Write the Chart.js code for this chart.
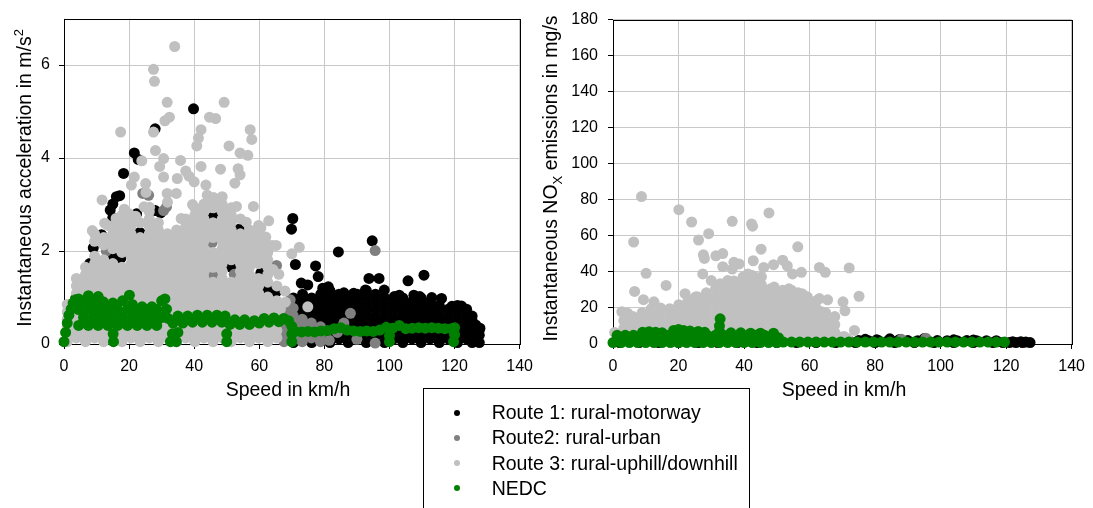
<!DOCTYPE html>
<html><head><meta charset="utf-8">
<script src="https://cdn.jsdelivr.net/npm/chart.js@4"></script>
<style>
html,body{margin:0;padding:0;background:#fff;}
body{width:1093px;height:508px;position:relative;overflow:hidden;font-family:'Liberation Sans',Arial,sans-serif;}
canvas{position:absolute;top:0;}
#c1{left:0;} #c2{left:541px;}
#legend{position:absolute;left:423px;top:388px;width:327px;height:130px;border:1px solid #000;box-sizing:border-box;}
.item{position:absolute;height:25px;line-height:25px;font-size:19.5px;white-space:nowrap;color:#000;}
.dot{position:absolute;width:6px;height:6px;border-radius:50%;}
</style></head><body>
<canvas id="c1" width="541" height="400"></canvas>
<canvas id="c2" width="552" height="400"></canvas>
<div id="legend"></div>
<script>
// ---------- labels, colours, ticks ----------
const seriesLabels = ['Route 1: rural-motorway','Route2: rural-urban','Route 3: rural-uphill/downhill','NEDC'];
const seriesColors = ['#000000','#808080','#c0c0c0','#008000'];
const speedTicks = [0,20,40,60,80,100,120,140];
const accelTicks = [0,2,4,6];
const noxTicks = [0,20,40,60,80,100,120,140,160,180];

// ---------- LEFT: speed (km/h) vs acceleration (m/s2) ----------
// columns: [speed, [accelerations...]]
const route1AccelCols = [
[70.5,[0.03,0.19,0.35,0.51,0.67,0.83,0.99]],
[73.3,[0.11,0.27,0.43,0.59,0.75,0.91,1.07]],
[76.1,[0.03,0.19,0.35,0.51,0.67,0.83,0.99]],
[78.9,[0.11,0.27,0.43,0.59,0.75,0.91,1.07]],
[81.7,[0.03,0.19,0.35,0.51,0.67,0.83,0.99,1.15]],
[84.5,[0.11,0.27,0.43,0.59,0.75,0.91,1.07]],
[87.3,[0.03,0.19,0.35,0.51,0.67,0.83,0.99]],
[90.1,[0.11,0.27,0.43,0.59,0.75,0.91,1.07]],
[92.9,[0.03,0.19,0.35,0.51,0.67,0.83,0.99,1.15]],
[95.7,[0.11,0.27,0.43,0.59,0.75,0.91,1.07]],
[98.5,[0.03,0.19,0.35,0.51,0.67,0.83,0.99]],
[101.3,[0.11,0.27,0.43,0.59,0.75,0.91]],
[104.1,[0.03,0.19,0.35,0.51,0.67,0.83,0.99]],
[106.9,[0.11,0.27,0.43,0.59,0.75,0.91]],
[109.7,[0.03,0.19,0.35,0.51,0.67,0.83,0.99]],
[112.5,[0.11,0.27,0.43,0.59,0.75,0.91]],
[115.3,[0.03,0.19,0.35,0.51,0.67,0.83]],
[118.1,[0.11,0.27,0.43,0.59,0.75]],
[120.9,[0.03,0.19,0.35,0.51,0.67,0.83]],
[123.7,[0.11,0.27,0.43,0.59,0.75]],
[125.4,[0.03,0.19,0.35,0.5,0.6]],
[127.6,[0.03,0.19,0.3]]
];
const route1AccelPts = [
[39.8,5.06],[21.6,4.11],[22.8,3.97],[28.0,4.63],[18.3,3.67],[17.1,3.19],[16.1,3.17],[15.0,3.01],[14.2,2.88],[15.0,2.72],
[22.3,2.80],[28.0,2.87],[29.7,2.82],[9.0,2.07],[7.9,1.73],[15.2,1.86],[17.5,1.85],[23.3,2.40],[11.5,2.35],
[45.9,2.74],[53.8,2.47],[51.5,1.65],[60.5,1.53],[62.4,1.19],[65.2,1.12],[3.6,0.98],[2.8,0.85],
[70.3,2.70],[69.9,2.47],[71.1,1.71],[77.3,1.68],[78.1,1.45],[84.3,1.98],[94.7,2.22],[93.7,1.41],[96.8,1.41],
[105.7,1.36],[110.6,1.48],[72.9,1.31],[74.9,1.27],[81.2,1.23],[89.0,1.09],[92.6,1.16],[98.4,1.16],[101.5,1.02],
[109.3,1.02],[116.0,0.98],[119.2,0.81],[122.1,0.82],[126.5,0.41],[127.8,0.34],[107.5,1.05],[113.0,1.00],
[86.0,1.10],[79.5,1.20],[103.0,1.05]
];
const route2AccelCols = [
[67.6,[0.05,0.21,0.37,0.53,0.69,0.85]],
[70.4,[0.13,0.29,0.45,0.61,0.77]],
[73.2,[0.05,0.21,0.37,0.53]],
[76.0,[0.13,0.29,0.45]],
[78.8,[0.05,0.21,0.37]]
];
const route2AccelPts = [
[65.3,1.69],[95.6,2.01],[88.0,0.66],[95.6,0.02],[81.5,0.08],[84.0,0.25],[45.5,2.18],[46.0,1.47],[52.3,1.50],
[13.0,2.00],[24.2,3.24],[30.6,2.87],[31.5,2.95],[26.0,3.20],[69.5,0.95],[90.0,0.10],[86.0,0.45]
];
const route3AccelCols = [
[1.0,[0.05,0.21,0.37,0.53,0.69,0.85]],
[3.8,[0.13,0.29,0.45,0.61,0.77,0.93,1.09,1.25,1.41]],
[6.6,[0.05,0.21,0.37,0.53,0.69,0.85,1.01,1.17,1.33,1.49,1.65]],
[9.4,[0.13,0.29,0.45,0.61,0.77,0.93,1.09,1.25,1.41,1.57,1.73,1.89,2.21,2.37]],
[12.2,[0.05,0.21,0.37,0.53,0.69,0.85,1.01,1.17,1.33,1.49,1.65,1.81,2.13,2.29]],
[15.0,[0.13,0.29,0.45,0.61,0.77,0.93,1.09,1.25,1.41,1.57,1.73,2.05,2.21,2.37,2.53]],
[17.8,[0.05,0.21,0.37,0.53,0.69,0.85,1.01,1.17,1.33,1.49,1.65,1.97,2.13,2.29,2.45,2.61,2.77]],
[20.6,[0.13,0.29,0.45,0.61,0.77,0.93,1.09,1.25,1.41,1.57,1.73,1.89,2.05,2.21,2.37,2.53,2.69]],
[23.4,[0.05,0.21,0.37,0.53,0.69,0.85,1.01,1.17,1.33,1.49,1.65,1.81,1.97,2.13,2.29,2.61]],
[26.2,[0.13,0.29,0.45,0.61,0.77,0.93,1.09,1.25,1.41,1.57,1.73,1.89,2.05,2.21,2.37,2.53,2.69,2.85]],
[29.0,[0.05,0.21,0.37,0.53,0.69,0.85,1.01,1.17,1.33,1.49,1.65,1.81,1.97,2.13,2.29,2.45,2.61]],
[31.8,[0.13,0.29,0.45,0.61,0.77,0.93,1.09,1.25,1.41,1.57,1.73,1.89,2.05,2.21,2.37]],
[34.6,[0.05,0.21,0.37,0.53,0.69,0.85,1.01,1.17,1.33,1.49,1.65,1.81,1.97,2.13,2.29,2.45]],
[37.4,[0.13,0.29,0.45,0.61,0.77,0.93,1.09,1.25,1.41,1.57,1.73,1.89,2.05,2.21,2.37,2.53,2.69]],
[40.2,[0.05,0.21,0.37,0.53,0.69,0.85,1.01,1.17,1.33,1.49,1.65,1.81,1.97,2.13,2.29,2.45,2.61,2.77,2.93]],
[43.0,[0.13,0.29,0.45,0.61,0.77,0.93,1.09,1.25,1.41,1.57,1.73,1.89,2.05,2.21,2.37,2.53,2.69,2.85,3.01]],
[45.8,[0.05,0.21,0.37,0.53,0.69,0.85,1.01,1.17,1.33,1.65,1.81,1.97,2.29,2.45,2.61,2.93,3.09]],
[48.6,[0.13,0.29,0.45,0.61,0.77,0.93,1.09,1.25,1.41,1.57,1.73,1.89,2.05,2.21,2.37,2.53,2.69,2.85,3.01,3.17]],
[51.4,[0.05,0.21,0.37,0.53,0.69,0.85,1.01,1.17,1.33,1.81,1.97,2.13,2.29,2.45,2.61,2.77,2.93]],
[54.2,[0.13,0.29,0.45,0.61,0.77,0.93,1.09,1.25,1.41,1.57,1.73,1.89,2.05,2.21,2.37,2.69]],
[57.0,[0.05,0.21,0.37,0.53,0.69,0.85,1.01,1.17,1.33,1.49,1.65,1.81,1.97,2.13,2.29,2.45]],
[59.8,[0.13,0.29,0.45,0.61,0.77,0.93,1.09,1.25,1.41,1.73,1.89,2.05,2.21,2.37]],
[62.6,[0.05,0.21,0.37,0.53,0.69,0.85,1.01,1.33,1.49,1.65,1.81,1.97,2.13]],
[65.4,[0.13,0.29,0.45,0.61,0.77,0.93,1.25]]
];
const route3AccelPts = [
[34.0,6.40],[27.5,5.91],[27.8,5.65],[49.2,5.20],[31.7,5.20],[32.4,4.88],[31.0,4.80],[44.7,4.88],[46.6,4.85],
[57.2,4.61],[57.7,4.40],[17.4,4.56],[27.5,4.56],[42.1,4.61],[41.3,4.43],[40.8,4.26],[50.7,4.26],[54.1,4.11],
[56.5,4.06],[28.1,4.16],[23.9,3.94],[30.6,3.99],[29.4,3.82],[35.8,3.95],[42.1,3.82],[48.1,3.76],[53.5,3.77],
[54.1,3.64],[37.4,3.72],[38.4,3.61],[40.0,3.49],[43.6,3.42],[52.5,3.46],[21.6,3.59],[20.7,3.42],[25.1,3.45],
[30.6,3.59],[34.8,3.56],[25.2,3.26],[31.7,3.24],[34.5,3.24],[11.7,3.10],[31.8,3.05],[58.2,2.96],[53.0,2.96],
[62.9,2.65],[59.8,2.55],[64.0,2.12],[65.2,2.12],[72.3,2.08],[70.0,1.94],[67.9,1.14],[68.0,0.90],[74.9,0.80],
[26.3,2.94],[8.7,2.44],[13.5,2.55],[20.0,2.80],[24.6,2.95],[22.0,2.75],[39.5,3.00],[44.0,3.20],[46.0,3.15],
[36.0,2.70],[60.5,2.50],[56.0,2.62],[62.0,2.30],[64.2,1.60],[66.0,1.50],[66.5,0.75],[12.5,2.60],[16.0,2.70],[18.5,2.90]
];
const nedcAccel = [
[0,0.05],[0.5,0.25],[1,0.45],[1.5,0.62],[2.2,0.75],[2.8,0.88],[3.5,0.95],
[4.5,0.40],[4.5,0.74],[4.5,0.97],[6,0.57],[6,0.91],[7.5,0.40],[7.5,0.74],[7.5,1.04],[9,0.57],[9,0.91],
[10.5,0.40],[10.5,0.74],[10.5,1.02],[12,0.57],[12,0.91],[13.5,0.40],[13.5,0.74],[15,0.57],[15,0.88],
[15.2,0.05],[15.1,0.22],[16.5,0.40],[16.5,0.74],[18,0.57],[18,0.93],[19.5,0.40],[19.5,0.74],[20.1,1.05],
[21,0.57],[21,0.85],[22.5,0.40],[22.5,0.74],[24,0.57],[24,0.80],[25.5,0.40],[25.5,0.74],[27,0.57],[27,0.80],
[28.5,0.40],[28.5,0.74],[30,0.57],[30,0.93],[31,0.97],[31.5,0.75],[32,0.55],
[32.7,0.05],[34.5,0.05],[33.3,0.22],[35,0.25],
[33.5,0.45],[35,0.60],[36.5,0.45],[38,0.60],[39.5,0.47],[41,0.62],[42.5,0.47],[44,0.62],[45.5,0.47],[47,0.62],[48.5,0.47],[49.5,0.60],
[50,0.05],[50,0.22],
[51,0.42],[52.5,0.52],[54,0.42],[55.5,0.52],[57,0.42],[58.5,0.50],[60,0.45],[61.5,0.55],[63,0.47],[64.5,0.56],[66,0.48],[67.5,0.55],[69,0.50],
[70,0.05],[70,0.22],[70,0.38],
[71,0.27],[73,0.26],[75,0.27],[77,0.26],[79,0.28],[81,0.29],[83,0.33],[85,0.35],[87,0.30],[89,0.28],[91,0.27],[93,0.28],[95,0.27],[97,0.30],[99,0.36],
[100,0.05],[100,0.18],
[101,0.34],[103,0.40],[105,0.33],[107,0.34],[109,0.35],[111,0.34],[113,0.35],[115,0.34],[117,0.33],[119,0.33],[120,0.35],
[119.7,0.05],[120,0.20]
];

// ---------- RIGHT: speed (km/h) vs NOx (mg/s) ----------
const route1Nox = [
[2,0.8],[8,0.8],[14,0.8],[20,0.8],[26,0.8],[32,0.8],[38,0.8],[44,0.8],[50,0.8],[56,0.8],[62,0.8],[68,0.8],
[74,0.8],[80,0.8],[86,0.8],[92,0.8],[98,0.8],[104,0.8],[110,0.8],[116,0.8],[119,0.8],[121,0.8],[123,0.8],
[125,0.8],[127.3,0.8],[122,1.2],[124.5,1.3],[126,1.1],
[72,1.8],[75,1.9],[78,1.8],[81,1.9],[84,1.8],[87,1.8],[90,1.9],[93,1.8],[96,1.8],[99,1.9],[102,1.8],[105,1.8],
[108,1.9],[111,1.8],[114,1.8],[117,1.8],
[77,2.6],[80.5,2.3],[84.5,2.9],[87.5,2.5],[95,3.0],[104,2.3],[110,2.2]
];
const route2Nox = [[95.5,3.2],[88,2.6],[60,1.5],[66,2.0],[40,2.0],[20,1.5]];
const route3NoxCols = [
[0.5,[6.4]],
[3.3,[8.6,13]],
[6.1,[6.4,10.8,15.2]],
[8.9,[8.6,13,17.4]],
[11.7,[6.4,10.8,15.2,19.6]],
[14.5,[8.6,13,17.4,20]],
[17.3,[6.4,10.8,15.2,19.6]],
[20.1,[8.6,13,17.4,21.8]],
[22.9,[6.4,10.8,15.2,19.6,24]],
[25.7,[8.6,13,17.4,21.8,26.2]],
[28.5,[6.4,10.8,15.2,19.6,24,28.4]],
[31.3,[8.6,13,17.4,21.8,26.2,30.6]],
[34.1,[6.4,10.8,15.2,19.6,24,28.4,32.8]],
[36.9,[8.6,13,17.4,21.8,26.2,30.6,35]],
[39.7,[6.4,10.8,15.2,19.6,24,28.4,32.8,37.2]],
[42.5,[8.6,13,17.4,21.8,26.2,30.6,35,38]],
[45.3,[6.4,10.8,15.2,19.6,24,28.4,32.8,37.2]],
[48.1,[8.6,13,17.4,21.8,26.2,30.6]],
[50.9,[2,6.4,10.8,15.2,19.6,24,28.4]],
[53.7,[4.2,8.6,13,17.4,21.8,26.2,30.6]],
[56.5,[2,6.4,10.8,15.2,19.6,24,28.4]],
[59.3,[4.2,8.6,13,17.4,21.8,26.2]],
[62.1,[2,6.4,10.8,15.2,19.6,24]],
[64.9,[4.2,8.6,13,17.4]],
[67.7,[2,6.4,10.8,15.2]],
[70.5,[4.2]]
];
const route3NoxPts = [
[8.7,81.8],[20.1,74.5],[24.0,67.7],[47.6,72.7],[36.4,68.1],[42.3,66.6],[42.6,65.4],[6.3,56.6],[26.1,57.7],
[29.2,61.2],[27.6,49.5],[27.9,47.5],[31.4,48.9],[33.5,50.2],[33.5,42.9],[45.2,52.6],[56.4,53.9],[10.1,39.2],
[6.6,29.2],[16.2,32.5],[27.4,38.9],[36.9,45.3],[38.5,44.4],[42.8,46.2],[46.0,42.5],[49.0,44.0],[51.8,46.5],
[53.2,43.4],[54.8,38.9],[57.5,39.8],[63.0,42.5],[64.8,39.8],[72.1,42.2],[75.1,26.5],[70.2,23.4],[70.8,18.4],
[73.7,7.5],[63.0,25.2],[63.6,17.9],[64.8,11.9],[61.4,17.0],[9.3,24.6],[12.5,23.4],[2.7,17.9],[4.5,17.0],
[41.2,38.9],[43.5,37.1],[40.1,37.1],[36.4,41.6],[35.0,35.2],[32.7,33.4],[30.0,35.2],[46.5,29.8],[49.2,31.6],
[51.8,29.8],[54.5,29.8],[57.7,27.9],[23.1,24.3],[25.2,26.1],[22.0,27.9],[65.5,24.5],[68.5,4.5],[71.5,3.0]
];
const nedcNox = [
[0,0.8],[2.5,0.8],[5,0.8],[7.5,0.8],[10,0.8],[12.5,0.8],[15,0.8],[17.5,0.8],[20,0.8],[22.5,0.8],[25,0.8],
[27.5,0.8],[30,0.8],[32.5,0.8],[35,0.8],[37.5,0.8],[40,0.8],[42.5,0.8],[45,0.8],[47.5,0.8],[50,0.8],
[1.25,4.8],[3.75,4.8],[6.25,4.8],[8.75,4.8],[11.25,4.8],[13.75,4.8],[16.25,4.8],[18.75,4.8],[21.25,4.8],
[23.75,4.8],[26.25,4.8],[28.75,4.8],[31.25,4.8],[33.75,4.8],[36.25,4.8],[38.75,4.8],[41.25,4.8],[43.75,4.8],
[46.25,4.8],[48.75,4.8],[50.5,3.5],
[9,6.5],[11,6.8],[13,6.5],[15,6.2],[18.5,7.5],[20,8],[21.5,7.5],[23.5,7.2],[26,7],[28,6.5],
[32.5,7],[32.5,10],[32.7,14],[36,6.2],[39,6.2],[42,6],[45,6],[49,6],
[52,1.1],[54.5,1.1],[57,1.1],[59.5,1.1],[62,1.1],[64.5,1.1],[67,1.1],[69.5,1.1],[72,1.1],[74.5,1.1],
[77,1.1],[79.5,1.1],[82,1.1],[84.5,1.1],[87,1.1],[89.5,1.1],[92,1.1],[94.5,1.1],[97,1.1],[99.5,1.1],
[102,1.1],[104.5,1.1],[107,1.1],[109.5,1.1],[112,1.1],[114.5,1.1],[117,1.1],[119.5,1.1]
];

// ---------- helpers ----------
const FONT = "'Liberation Sans', Arial, sans-serif";
const cols = c => c.flatMap(([s, vs]) => vs.map(v => ({x: s, y: v})));
const pts = p => p.map(([x, y]) => ({x, y}));

const framePlugin = {
  id: 'frame',
  beforeDatasetsDraw(chart) {
    const {ctx, chartArea: a} = chart;
    const l = Math.round(a.left), t = Math.round(a.top), r = Math.round(a.right), b = Math.round(a.bottom);
    ctx.save();
    ctx.strokeStyle = '#000'; ctx.lineWidth = 1;
    ctx.strokeRect(l + 0.5, t + 0.5, r - l, b - t);
    ctx.restore();
  }
};

function titlesPlugin(xt, yt) {
  return {
    id: 'titles',
    afterDraw(chart) {
      const ctx = chart.ctx;
      ctx.save();
      ctx.fillStyle = '#000';
      ctx.textBaseline = 'alphabetic';
      ctx.font = '19.5px ' + FONT;
      ctx.textAlign = 'center';
      ctx.fillText(xt.text, xt.x, xt.y);
      ctx.translate(yt.x, yt.cy);
      ctx.rotate(-Math.PI / 2);
      ctx.textAlign = 'left';
      let total = 0;
      const parts = yt.parts.map(p => {
        ctx.font = (p.sup || p.sub ? '13px ' : '19.5px ') + FONT;
        const w = ctx.measureText(p.t).width; total += w;
        return Object.assign({w}, p);
      });
      let x = -total / 2;
      for (const p of parts) {
        ctx.font = (p.sup || p.sub ? '13px ' : '19.5px ') + FONT;
        ctx.fillText(p.t, x, p.sup ? -8 : (p.sub ? 5 : 0));
        x += p.w;
      }
      ctx.restore();
    }
  };
}

function ds(label, color, data) {
  return {label, data, backgroundColor: color, pointRadius: 5.5, pointHoverRadius: 5.5, borderWidth: 0, clip: false};
}

function makeChart(id, datasets, yTicks, yMax, yWidth, pad, yPad, titles) {
  const tickFont = {family: FONT, size: 16};
  return new Chart(document.getElementById(id), {
    type: 'scatter',
    data: {datasets},
    options: {
      responsive: false, animation: false, devicePixelRatio: 1, events: [],
      layout: {padding: pad},
      plugins: {legend: {display: false}, tooltip: {enabled: false}},
      scales: {
        x: {
          type: 'linear', min: 0, max: 140,
          afterBuildTicks: s => { s.ticks = speedTicks.map(v => ({value: v})); },
          afterFit: s => { s.height = 56; },
          grid: {color: '#c8c8c8', lineWidth: 1, tickLength: 5, tickColor: '#000', tickWidth: 1},
          border: {display: false},
          ticks: {font: tickFont, color: '#000', padding: 8, maxRotation: 0, autoSkip: false}
        },
        y: {
          type: 'linear', min: 0, max: yMax,
          afterBuildTicks: s => { s.ticks = yTicks.map(v => ({value: v})); },
          afterFit: s => { s.width = yWidth; },
          grid: {color: '#c8c8c8', lineWidth: 1, tickLength: 5, tickColor: '#000', tickWidth: 1},
          border: {display: false},
          ticks: {font: tickFont, color: '#000', padding: yPad, autoSkip: false}
        }
      }
    },
    plugins: [framePlugin, titlesPlugin(titles.x, titles.y)]
  });
}

// top of stack first: NEDC, Route 3, Route 2, Route 1
makeChart('c1', [
  ds(seriesLabels[3], seriesColors[3], pts(nedcAccel)),
  ds(seriesLabels[2], seriesColors[2], cols(route3AccelCols).concat(pts(route3AccelPts))),
  ds(seriesLabels[1], seriesColors[1], cols(route2AccelCols).concat(pts(route2AccelPts))),
  ds(seriesLabels[0], seriesColors[0], cols(route1AccelCols).concat(pts(route1AccelPts)))
], accelTicks, 7, 64, {left: 0, right: 14, top: 17, bottom: 0}, 9, {
  x: {text: 'Speed in km/h', x: 288, y: 395.5},
  y: {x: 31, cy: 178, parts: [{t: 'Instantaneous acceleration in m/s'}, {t: '2', sup: true}]}
});

makeChart('c2', [
  ds(seriesLabels[3], seriesColors[3], pts(nedcNox)),
  ds(seriesLabels[2], seriesColors[2], cols(route3NoxCols).concat(pts(route3NoxPts))),
  ds(seriesLabels[1], seriesColors[1], pts(route2Nox)),
  ds(seriesLabels[0], seriesColors[0], pts(route1Nox))
], noxTicks, 180, 72, {left: 0, right: 17, top: 16, bottom: 0}, 10, {
  x: {text: 'Speed in km/h', x: 303, y: 395.5},
  y: {x: 16, cy: 178.5, parts: [{t: 'Instantaneous NO'}, {t: 'X', sub: true}, {t: ' emissions in mg/s'}]}
});

// ---------- legend ----------
const leg = document.getElementById('legend');
seriesLabels.forEach((lab, i) => {
  const d = document.createElement('div');
  d.className = 'dot';
  d.style.left = '30.3px';
  d.style.top = (20.7 + 25.2 * i) + 'px';
  d.style.background = seriesColors[i];
  leg.appendChild(d);
  const t = document.createElement('div');
  t.className = 'item';
  t.style.left = '67.7px';
  t.style.top = (11.2 + 25.2 * i) + 'px';
  t.textContent = lab;
  leg.appendChild(t);
});
</script>
</body></html>
